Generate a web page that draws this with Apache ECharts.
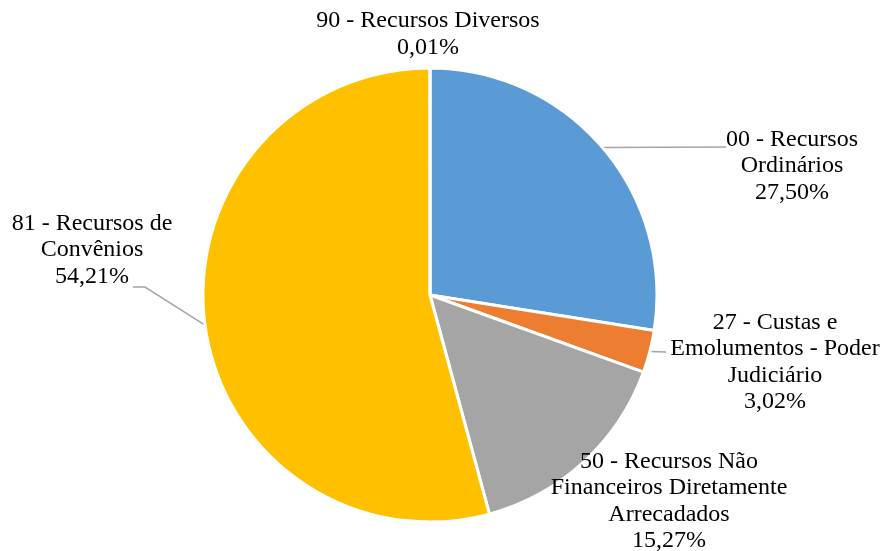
<!DOCTYPE html>
<html>
<head>
<meta charset="utf-8">
<script src="https://cdn.jsdelivr.net/npm/echarts@6/dist/echarts.min.js"></script>
<style>html,body{margin:0;padding:0;background:#fff}#c{width:882px;height:551px}</style>
</head>
<body>
<div id="c"></div>
<script>
var categories = [
  '00 - Recursos\nOrdinários',
  '27 - Custas e\nEmolumentos - Poder\nJudiciário',
  '50 - Recursos Não\nFinanceiros Diretamente\nArrecadados',
  '81 - Recursos de\nConvênios',
  '90 - Recursos Diversos'
];
var values = [27.50, 3.02, 15.27, 54.21, 0.01];
var colors = ['#5B9BD5', '#ED7D31', '#A5A5A5', '#FFC000', '#4472C4'];
var labelCenters = [[792, 166], [775, 362], [669, 501], [92, 250], [428, 34]];
var lineEnds = [[[726, 147]], [[666, 352]], null, [[145, 287], [133, 287]], null];

var data = categories.map(function (c, i) {
  return {
    name: c, value: values[i],
    itemStyle: { color: colors[i] },
    labelLine: { show: !!lineEnds[i] }
  };
});

var chart = echarts.init(document.getElementById('c'));
chart.setOption({
  animation: false,
  series: [{
    type: 'pie',
    center: [430, 295],
    radius: 227,
    startAngle: 90,
    clockwise: true,
    avoidLabelOverlap: false,
    data: data,
    itemStyle: { borderColor: '#fff', borderWidth: 3 },
    label: {
      show: true,
      fontFamily: 'Liberation Serif',
      fontSize: 24,
      lineHeight: 26.5,
      color: '#000',
      align: 'center',
      formatter: function (p) {
        return p.name + '\n' + p.value.toFixed(2).replace('.', ',') + '%';
      }
    },
    labelLine: {
      show: true,
      length: 10,
      length2: 10,
      lineStyle: { color: '#A5A5A5', width: 1.5 }
    },
    labelLayout: function (p) {
      var i = p.dataIndex;
      var res = { x: labelCenters[i][0], y: labelCenters[i][1], align: 'center', verticalAlign: 'middle' };
      if (lineEnds[i] && p.labelLinePoints) {
        res.labelLinePoints = [p.labelLinePoints[0]].concat(lineEnds[i]);
      }
      return res;
    }
  }]
});
</script>
</body>
</html>
